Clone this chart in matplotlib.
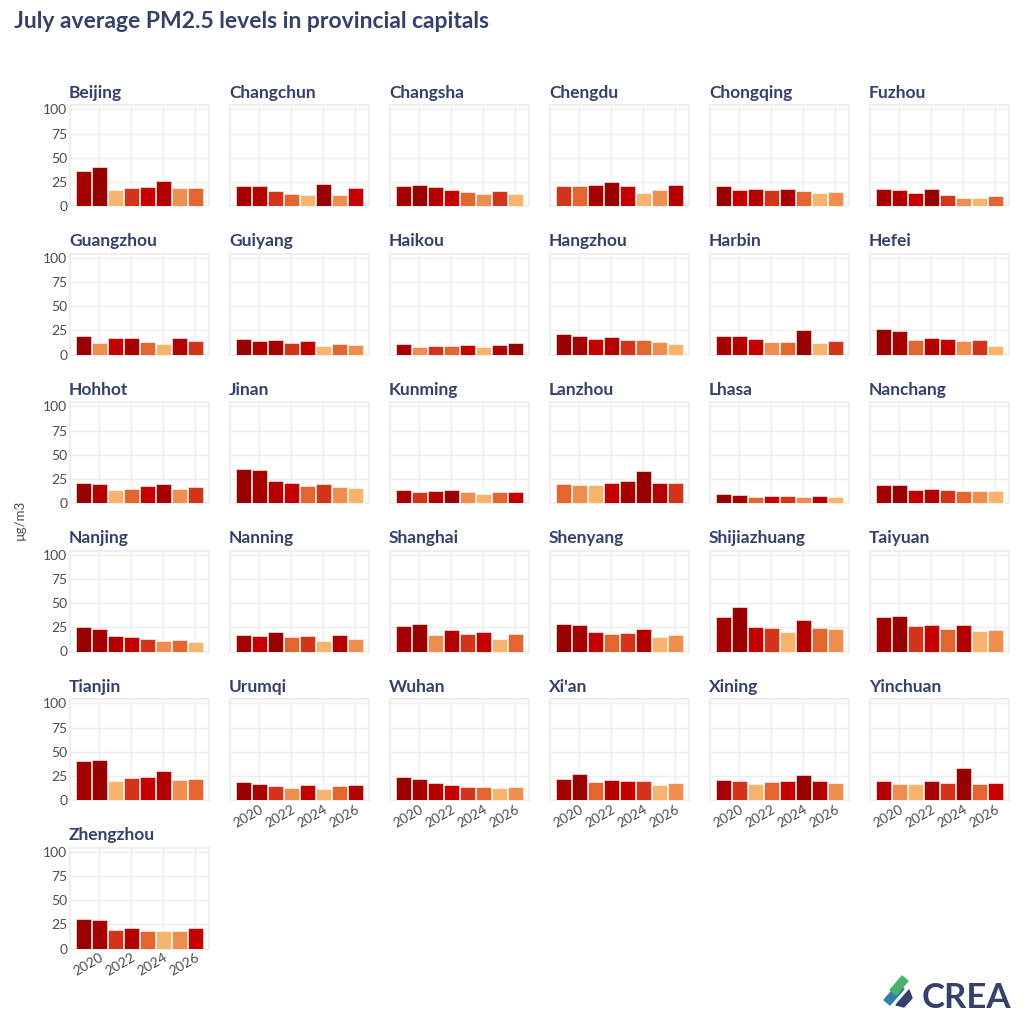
import numpy as np
import matplotlib
matplotlib.use("Agg")
import matplotlib.pyplot as plt
from matplotlib.patches import Polygon

plt.rcParams['font.family'] = ['Lato', 'DejaVu Sans']

# July averages, µg/m3
years = [2019, 2020, 2021, 2022, 2023, 2024, 2025, 2026]
cities = ["Beijing", "Changchun", "Changsha", "Chengdu", "Chongqing", "Fuzhou",
          "Guangzhou", "Guiyang", "Haikou", "Hangzhou", "Harbin", "Hefei",
          "Hohhot", "Jinan", "Kunming", "Lanzhou", "Lhasa", "Nanchang",
          "Nanjing", "Nanning", "Shanghai", "Shenyang", "Shijiazhuang", "Taiyuan",
          "Tianjin", "Urumqi", "Wuhan", "Xi'an", "Xining", "Yinchuan",
          "Zhengzhou"]
values = [
    [36.6, 40.1, 16.1, 18.6, 19.5, 26.4, 18.3, 18.5],  # Beijing
    [21.2, 20.2, 15.4, 12.7, 11.4, 22.9, 11.7, 18.5],  # Changchun
    [20.5, 21.9, 19.5, 16.3, 14.7, 12.8, 16.0, 12.6],  # Changsha
    [21.0, 20.5, 21.3, 24.7, 21.2, 13.7, 16.1, 21.25],  # Chengdu
    [20.5, 16.2, 17.1, 16.1, 17.8, 16.0, 13.4, 14.7],  # Chongqing
    [17.1, 16.1, 13.4, 17.8, 11.6, 8.6, 7.9, 10.6],    # Fuzhou
    [18.8, 12.0, 16.8, 17.5, 13.4, 10.9, 17.0, 13.7],  # Guangzhou
    [16.4, 14.4, 14.7, 11.6, 13.7, 8.6, 10.6, 10.3],   # Guiyang
    [11.3, 7.9, 9.2, 9.0, 9.4, 7.5, 10.3, 11.6],       # Haikou
    [21.6, 19.5, 16.1, 18.5, 14.9, 14.5, 12.7, 11.3],  # Hangzhou
    [19.0, 18.7, 15.8, 12.7, 13.4, 25.7, 12.0, 13.7],  # Harbin
    [26.0, 24.0, 14.7, 16.8, 16.4, 14.4, 15.4, 9.2],   # Hefei
    [20.2, 19.2, 13.7, 14.7, 17.1, 19.9, 14.4, 16.1],  # Hohhot
    [35.6, 34.6, 22.3, 20.9, 17.1, 19.9, 16.1, 15.1],  # Jinan
    [13.6, 11.6, 12.7, 13.8, 11.0, 8.9, 11.4, 11.8],   # Kunming
    [19.3, 19.1, 18.2, 20.9, 22.3, 32.9, 21.2, 20.2],  # Lanzhou
    [8.9, 7.9, 6.7, 7.4, 6.9, 6.2, 7.6, 5.8],          # Lhasa
    [18.8, 19.0, 13.7, 14.7, 13.0, 12.8, 12.7, 12.6],  # Nanchang
    [25.0, 23.3, 16.4, 15.4, 13.4, 11.0, 12.0, 9.6],   # Nanjing
    [17.2, 16.2, 19.9, 14.7, 16.0, 11.3, 17.0, 13.0],  # Nanning
    [26.4, 28.1, 17.1, 22.3, 18.5, 19.9, 12.7, 17.8],  # Shanghai
    [28.1, 27.4, 20.2, 18.2, 19.2, 22.9, 15.1, 16.8],  # Shenyang
    [36.0, 45.9, 25.7, 24.7, 20.2, 32.9, 24.0, 22.9],  # Shijiazhuang
    [35.3, 36.3, 26.4, 27.6, 22.9, 27.8, 21.2, 21.9],  # Taiyuan
    [40.8, 41.4, 20.0, 22.3, 24.0, 30.1, 20.3, 21.9],  # Tianjin
    [18.8, 16.4, 14.7, 12.7, 15.3, 11.6, 14.0, 15.6],  # Urumqi
    [24.0, 21.6, 17.1, 15.1, 13.7, 13.4, 12.7, 13.0],  # Wuhan
    [21.9, 26.7, 19.1, 21.2, 19.9, 19.3, 15.1, 17.1],  # Xi'an
    [21.2, 19.2, 16.8, 18.8, 19.8, 26.0, 20.0, 17.8],  # Xining
    [19.2, 16.7, 16.4, 19.4, 17.1, 32.9, 16.9, 17.3],  # Yinchuan
    [30.8, 29.8, 19.2, 21.0, 18.6, 18.4, 18.5, 20.8],  # Zhengzhou
]

# colour by rank within each city, highest first
palette = ['#990000', '#a60000', '#b50000', '#c60000',
           '#d4351a', '#e4652f', '#f08e50', '#f8b46c']
navy = '#35406b'
grid_c = '#eeeeee'

fig = plt.figure(figsize=(10.24, 10.24), dpi=100)
W = H = 1024.0

ncol = 6
pw, ph = 139, 101
x0, xstep = 70, 160
y0, ystep = 105, 148.5

for i, (city, vals) in enumerate(zip(cities, values)):
    r, c = divmod(i, ncol)
    left = x0 + c * xstep
    top = y0 + r * ystep
    ax = fig.add_axes([left / W, 1 - (top + ph) / H, pw / W, ph / H])
    vals = np.array(vals)
    order = np.argsort(-vals, kind='stable')
    cols = [None] * len(vals)
    for rank, idx in enumerate(order):
        cols[idx] = palette[rank]
    ax.bar(years, vals, width=0.92, color=cols, edgecolor='#ffffff', linewidth=0.4, zorder=3)
    ax.set_xlim(2018.17, 2026.85)
    ax.set_ylim(0, 104.6)
    ax.set_yticks([0, 25, 50, 75, 100])
    ax.set_xticks([2020, 2022, 2024, 2026])
    ax.grid(True, color=grid_c, linewidth=1.0, zorder=0)
    for s in ax.spines.values():
        s.set_color(grid_c)
        s.set_linewidth(1.3)
    ax.tick_params(length=0, labelsize=10, labelcolor='#4d4d4d', pad=2)
    # bottom panel of each column gets the year labels
    if i + ncol >= len(cities):
        ax.set_xticklabels([str(y) for y in [2020, 2022, 2024, 2026]],
                           rotation=30, ha='right', rotation_mode='anchor')
    else:
        ax.set_xticklabels([])
    if c != 0:
        ax.set_yticklabels([])
    ax.text(-0.008, 1.07, city, transform=ax.transAxes, fontsize=12.5,
            fontweight='bold', color=navy, ha='left', va='baseline')

fig.text(14 / W, 1 - 28 / H, "July average PM2.5 levels in provincial capitals",
         fontsize=16.5, fontweight='bold', color=navy, ha='left', va='baseline')
fig.text(20 / W, 1 - 520 / H, "µg/m3", rotation=90, fontsize=9.5,
         color='#4d4d4d', ha='center', va='center')

# logo
fig.text(1011 / W, 1 - 1008 / H, "CREA", fontsize=25, fontweight='bold',
         color=navy, ha='right', va='baseline')
def px(pts):
    return [(x / W, 1 - y / H) for x, y in pts]
fig.patches.append(Polygon(px([(884, 1000), (898, 984), (904, 989), (890, 1005)]),
                           closed=True, color='#2f7fb0', transform=fig.transFigure))
fig.patches.append(Polygon(px([(890, 990), (902, 976), (908, 981), (896, 995)]),
                           closed=True, color='#4bb26a', transform=fig.transFigure))
fig.patches.append(Polygon(px([(896, 1005), (909, 990), (912, 998), (904, 1007)]),
                           closed=True, color=navy, transform=fig.transFigure))

fig.savefig("out.png", dpi=100, facecolor='white')
